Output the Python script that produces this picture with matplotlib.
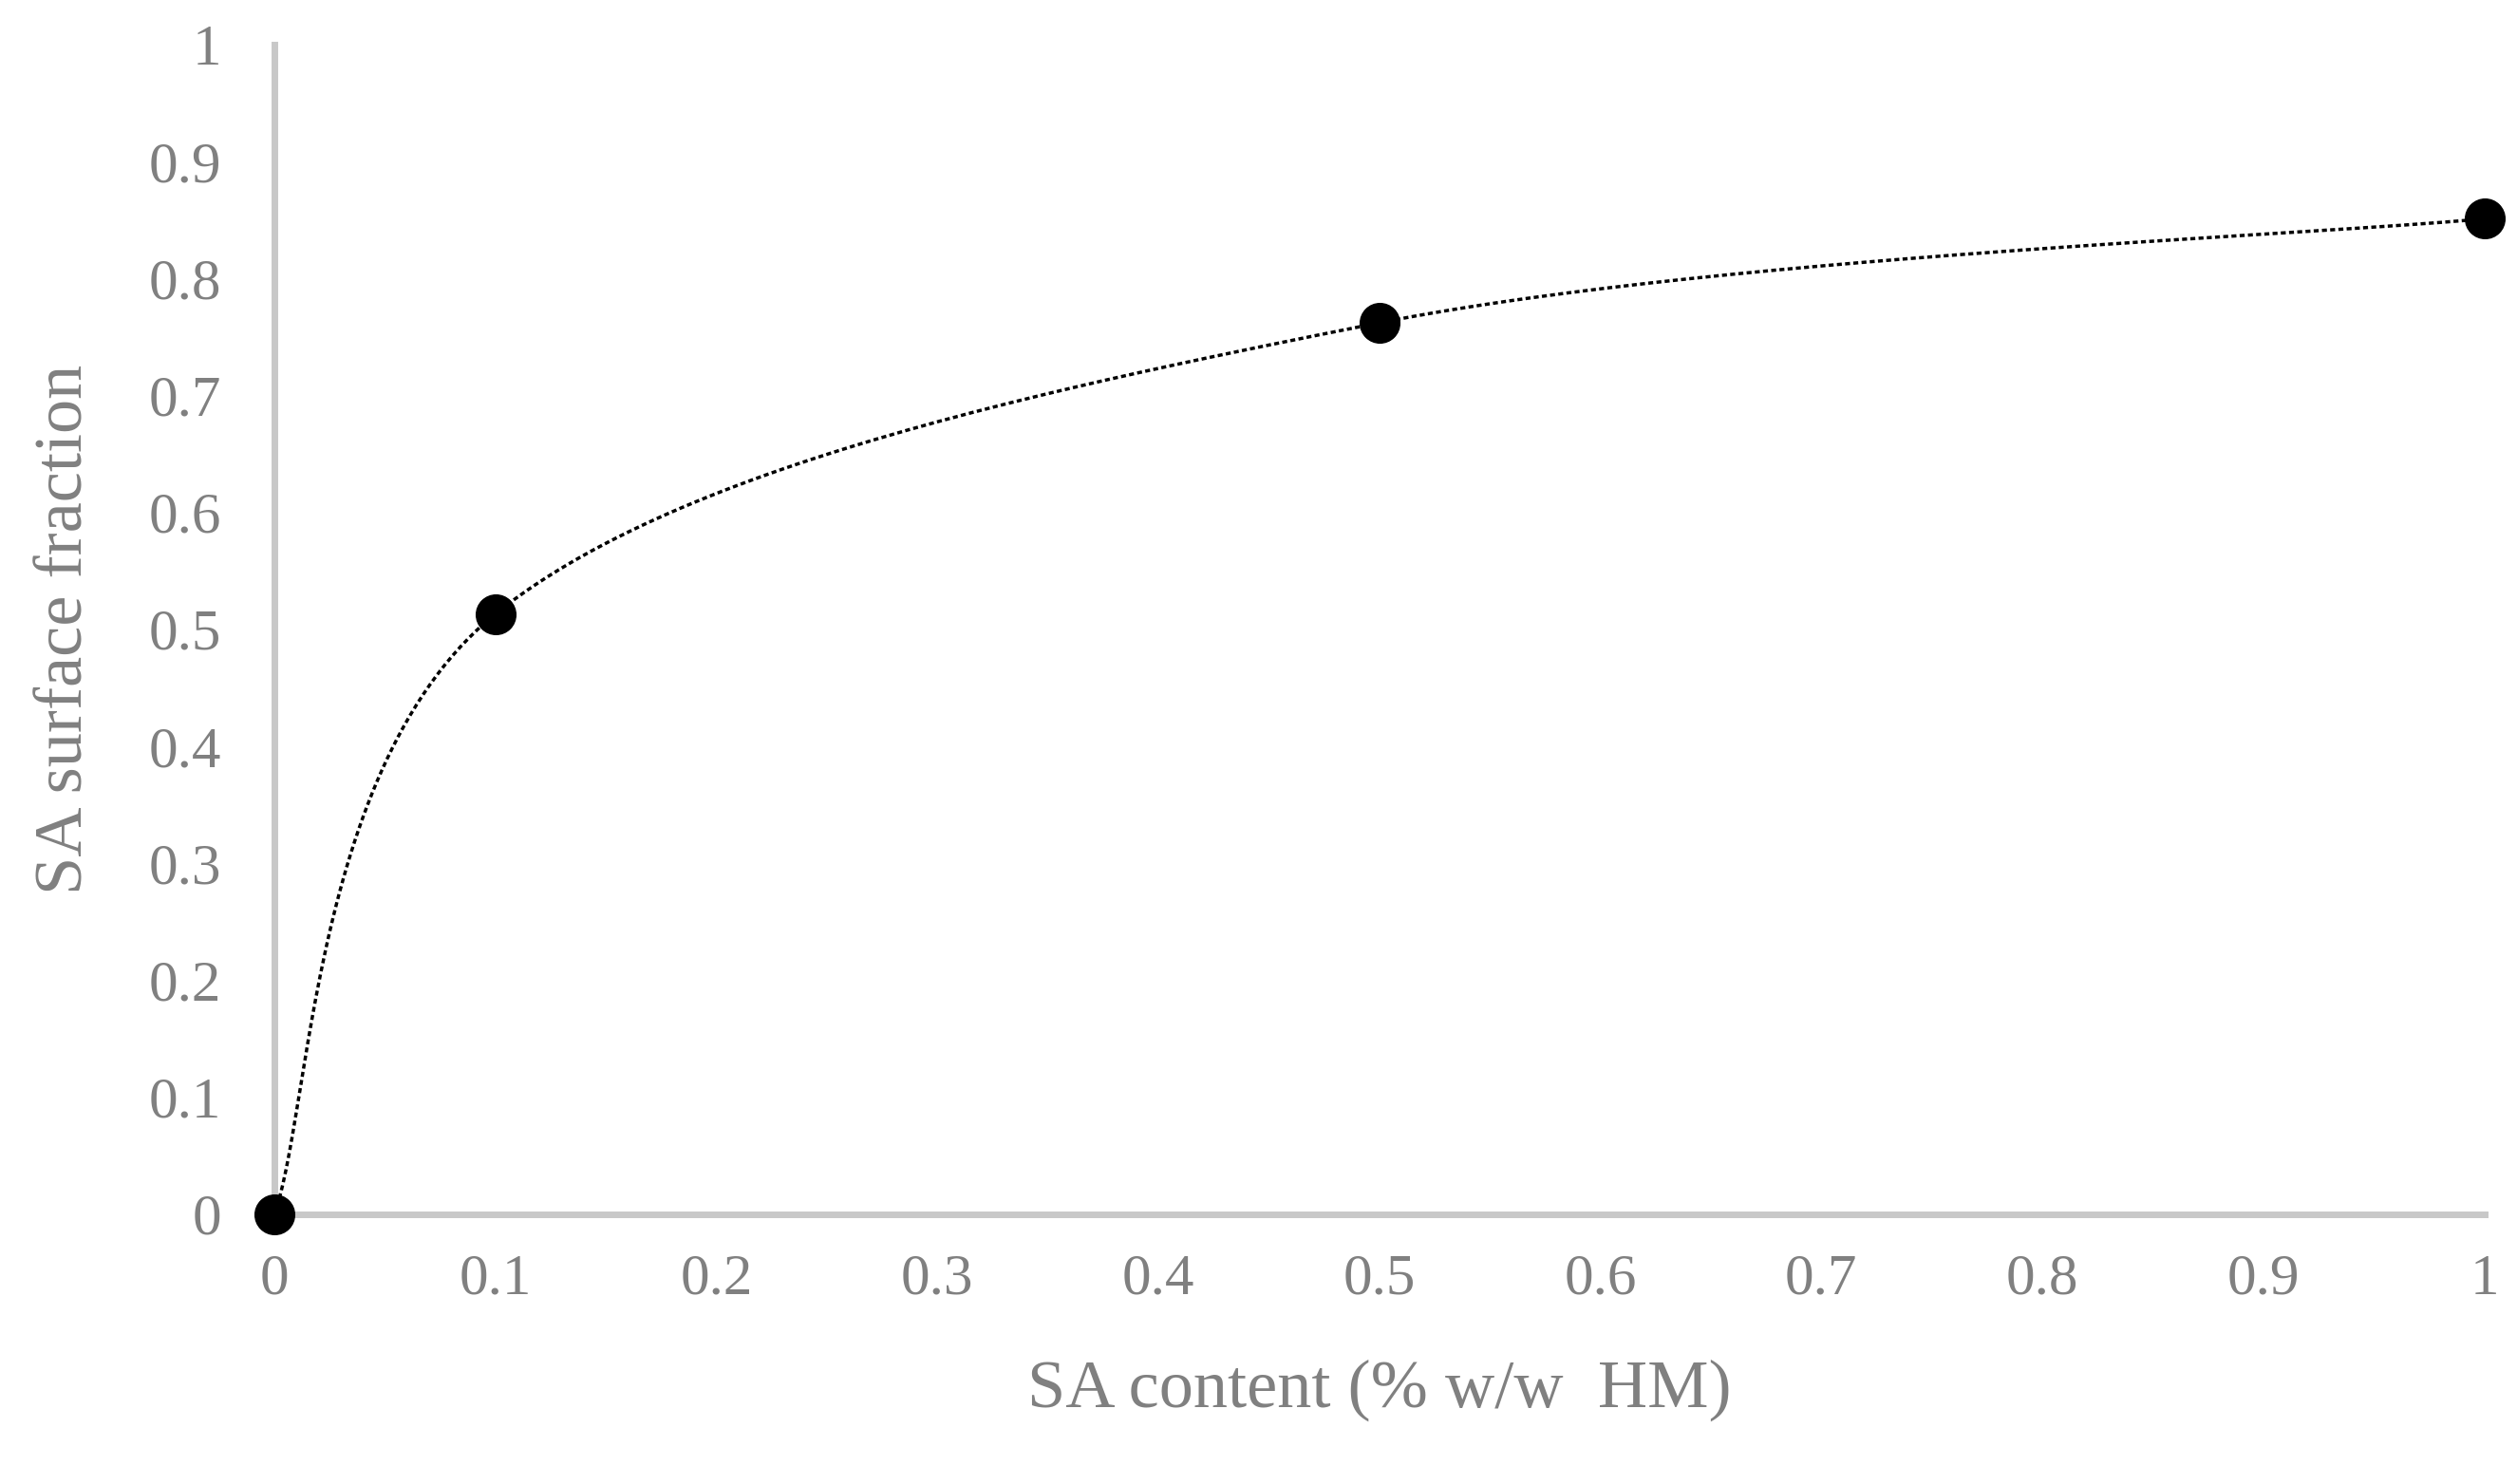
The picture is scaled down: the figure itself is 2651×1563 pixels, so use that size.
import numpy as np
import matplotlib.pyplot as plt

sa_content = [0, 0.1, 0.5, 1]
surface_fraction = [0, 0.513, 0.762, 0.851]

grey = '#808080'
axis_grey = '#c8c8c8'

def smooth(xs, ys, n=60):
    # Excel-like smoothed line (Catmull-Rom via Bezier control points)
    p = np.column_stack([xs, ys]).astype(float)
    pts = []
    for i in range(len(p) - 1):
        p0 = p[i - 1] if i > 0 else p[i]
        p3 = p[i + 2] if i + 2 < len(p) else p[i + 1]
        c1 = p[i] + (p[i + 1] - p0) / 6
        c2 = p[i + 1] - (p3 - p[i]) / 6
        t = np.linspace(0, 1, n)[:, None]
        seg = (1 - t)**3 * p[i] + 3 * (1 - t)**2 * t * c1 + 3 * (1 - t) * t**2 * c2 + t**3 * p[i + 1]
        pts.append(seg)
    s = np.vstack(pts)
    return s[:, 0], s[:, 1]

fig = plt.figure(figsize=(26.51, 15.63), dpi=100)
ax = fig.add_axes([0.109, 0.182, 0.878, 0.788])

sx, sy = smooth(sa_content, surface_fraction)
ax.plot(sx, sy, linestyle='--', color='black', linewidth=2.5, dashes=(1.5, 1))
ax.scatter(sa_content, surface_fraction, s=900, color='black', zorder=5, clip_on=False)

ax.set_xlim(0, 1)
ax.set_ylim(0, 1)
ax.set_xticks(np.arange(0, 1.01, 0.1))
ax.set_yticks(np.arange(0, 1.01, 0.1))
fmt = lambda v: '0' if v == 0 else ('1' if v == 1 else f'{v:.1f}')
ax.set_xticklabels([fmt(round(v, 1)) for v in ax.get_xticks()])
ax.set_yticklabels([fmt(round(v, 1)) for v in ax.get_yticks()])

font = dict(family='Liberation Serif', color=grey)
for lbl in ax.get_xticklabels() + ax.get_yticklabels():
    lbl.set_fontfamily('Liberation Serif')
    lbl.set_color(grey)
    lbl.set_fontsize(44)
ax.tick_params(length=0, pad=30)
ax.tick_params(axis='y', pad=40)

for s in ['top', 'right']:
    ax.spines[s].set_visible(False)
for s in ['left', 'bottom']:
    ax.spines[s].set_color(axis_grey)
    ax.spines[s].set_linewidth(5)

ax.set_xlabel('SA content (% w/w  HM)', fontsize=52, labelpad=40, **font)
ax.set_ylabel('SA surface fraction', fontsize=52, labelpad=40, **font)

fig.savefig('out.png', dpi=100)
